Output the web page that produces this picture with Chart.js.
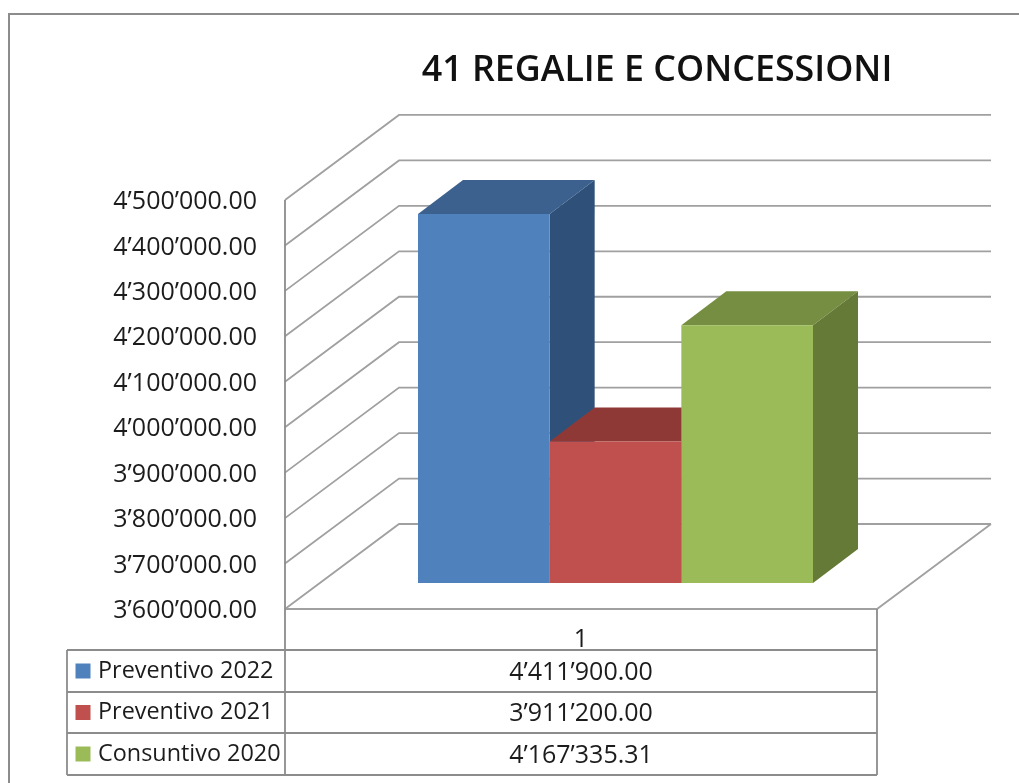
<!DOCTYPE html>
<html><head><meta charset="utf-8">
<style>html,body{margin:0;padding:0;background:#fff}canvas{display:block}</style>
<script src="https://cdn.jsdelivr.net/npm/chart.js@4"></script>
</head><body>
<div style="width:1019px;height:783px;position:relative"><canvas id="c" width="1019" height="783"></canvas></div>
<script>
const chartTitle = '41 REGALIE E CONCESSIONI';
const categories = ['1'];
const seriesNames = ['Preventivo 2022', 'Preventivo 2021', 'Consuntivo 2020'];
const preventivo2022 = [4411900.00];
const preventivo2021 = [3911200.00];
const consuntivo2020 = [4167335.31];
const axisMin = 3600000, axisMax = 4500000, axisStep = 100000;
const faceColors = ['#4F81BD', '#C0504D', '#9BBB59'];
const topColors  = ['#3C618E', '#8F3937', '#758E41'];
const sideColors = ['#2F5179', '#8F3937', '#647A36'];
const gridColor = '#a0a0a0', frameColor = '#8c8c8c', inkColor = '#1c1c1c';
const FONT = '"Open Sans", sans-serif';

const fmt = (v) => {
  const [i, d] = Number(v).toFixed(2).split('.');
  return i.replace(/\B(?=(\d{3})+(?!\d))/g, '\u2019') + '.' + d;
};
// 3-D geometry
const WALL = {dx: 114, dy: -85, right: 991};
const BARS = {tx: 34.5, ty: -26, dx: 45, dy: -34};
const TABLE = {left: 67, rows: [650, 692, 733, 775]};

const threeD = {
  id: 'threeD',
  afterLayout(chart) {
    chart.titleBlock.left = 295; chart.titleBlock.right = 1019;
  },
  beforeDraw(chart) {
    const {ctx, chartArea: a, scales: {y}} = chart;
    ctx.save();
    // outer frame
    ctx.strokeStyle = frameColor; ctx.lineWidth = 2;
    ctx.beginPath(); ctx.moveTo(9, 783); ctx.lineTo(9, 14); ctx.lineTo(1019, 14); ctx.stroke();
    // walls
    ctx.strokeStyle = gridColor; ctx.lineWidth = 1.8;
    y.ticks.forEach(t => {
      const py = y.getPixelForValue(t.value);
      ctx.beginPath();
      ctx.moveTo(a.left, py);
      ctx.lineTo(a.left + WALL.dx, py + WALL.dy);
      ctx.lineTo(WALL.right, py + WALL.dy);
      ctx.stroke();
    });
    // floor front & side
    const by = y.getPixelForValue(axisMin);
    ctx.beginPath();
    ctx.moveTo(a.left, by); ctx.lineTo(a.right, by);
    ctx.lineTo(WALL.right, by + WALL.dy);
    ctx.stroke();
    ctx.restore();
  },
  beforeDatasetsDraw(chart) {
    const {ctx, scales: {y}} = chart;
    ctx.save();
    ctx.translate(BARS.tx, BARS.ty);
    const B = y.getPixelForValue(axisMin);
    chart.data.datasets.forEach((ds, i) => {
      const b = chart.getDatasetMeta(i).data[0];
      const L = b.x - b.width / 2, R = b.x + b.width / 2, T = b.y;
      ctx.fillStyle = topColors[i];
      ctx.beginPath();
      ctx.moveTo(L, T); ctx.lineTo(L + BARS.dx, T + BARS.dy);
      ctx.lineTo(R + BARS.dx, T + BARS.dy); ctx.lineTo(R, T); ctx.closePath(); ctx.fill();
      ctx.fillStyle = sideColors[i];
      ctx.beginPath();
      ctx.moveTo(R, T); ctx.lineTo(R + BARS.dx, T + BARS.dy);
      ctx.lineTo(R + BARS.dx, B + BARS.dy); ctx.lineTo(R, B); ctx.closePath(); ctx.fill();
    });
  },
  afterDatasetsDraw(chart) {
    chart.ctx.restore();
  },
  afterDraw(chart) {
    const {ctx, chartArea: a} = chart;
    ctx.save();
    ctx.strokeStyle = frameColor; ctx.lineWidth = 1.8;
    const rows = TABLE.rows;
    ctx.beginPath();
    ctx.moveTo(a.left, a.top); ctx.lineTo(a.left, rows[3]);
    ctx.moveTo(a.right, a.bottom); ctx.lineTo(a.right, rows[3]);
    ctx.moveTo(TABLE.left, rows[0]); ctx.lineTo(TABLE.left, rows[3]);
    rows.forEach(r => { ctx.moveTo(TABLE.left, r); ctx.lineTo(a.right, r); });
    ctx.stroke();
    ctx.textBaseline = 'middle';
    chart.data.datasets.forEach((ds, i) => {
      const mid = (rows[i] + rows[i + 1]) / 2;
      ctx.fillStyle = faceColors[i];
      ctx.fillRect(75.5, mid - 7.5, 15, 15);
      ctx.fillStyle = inkColor;
      ctx.font = '23.4px ' + FONT;
      ctx.textAlign = 'left';
      ctx.fillText(ds.label, 98, mid);
      ctx.textAlign = 'center';
      ctx.font = '25px ' + FONT;
      ctx.fillText(fmt(ds.data[0]), (a.left + a.right) / 2, mid + 1.5);
    });
    ctx.restore();
  }
};

const makeSet = (name, values, i) => ({label: name, data: values, backgroundColor: faceColors[i], borderWidth: 0});

new Chart(document.getElementById('c'), {
  type: 'bar',
  data: {
    labels: categories,
    datasets: [
      makeSet(seriesNames[0], preventivo2022, 0),
      makeSet(seriesNames[1], preventivo2021, 1),
      makeSet(seriesNames[2], consuntivo2020, 2)
    ]
  },
  options: {
    responsive: false,
    animation: false,
    layout: {padding: {right: 142}},
    categoryPercentage: 395 / 592,
    barPercentage: 1,
    plugins: {
      legend: {display: false},
      tooltip: {enabled: false},
      title: {
        display: true, text: chartTitle, color: '#111',
        font: {family: FONT, size: 35.8, weight: '600'},
        padding: {top: 49, bottom: 108}
      }
    },
    scales: {
      x: {
        grid: {display: false}, border: {display: false},
        ticks: {color: inkColor, font: {family: FONT, size: 25}, padding: 8, maxRotation: 0},
        afterFit(s) { s.height = 174; }
      },
      y: {
        min: axisMin, max: axisMax,
        grid: {display: false}, border: {display: false},
        ticks: {
          stepSize: axisStep, color: inkColor, font: {family: FONT, size: 25}, padding: 20, labelOffset: 2,
          callback: (v) => fmt(v)
        },
        afterFit(s) { s.width = 285; }
      }
    }
  },
  plugins: [threeD]
});
</script>
</body></html>
